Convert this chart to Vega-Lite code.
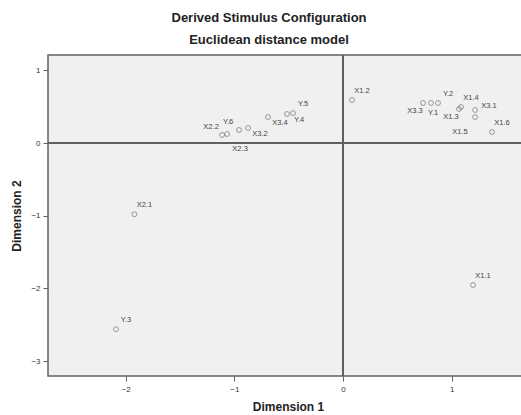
{
  "$schema": "https://vega.github.io/schema/vega-lite/v6.json",
  "autosize": "none",
  "width": 480,
  "height": 321,
  "padding": {"left": 48, "top": 55, "right": 0, "bottom": 39},
  "background": "white",
  "config": {
    "view": {"fill": "#f0f0f0", "stroke": "#606060", "strokeWidth": 1.5},
    "font": "Liberation Sans",
    "axis": {"grid": false, "domain": false, "tickColor": "#606060", "tickSize": 5, "labelFontSize": 8, "labelColor": "#333", "titleFontSize": 12, "titleFontWeight": "bold", "titleColor": "#222"},
    "text": {"fill": "#444", "fontSize": 7.5, "font": "Liberation Sans"}
  },
  "title": {
    "text": "Derived Stimulus Configuration",
    "subtitle": "Euclidean distance model",
    "fontSize": 13,
    "fontWeight": "bold",
    "color": "#222",
    "subtitleFontSize": 13,
    "subtitleFontWeight": "bold",
    "subtitleColor": "#222",
    "subtitlePadding": 9,
    "anchor": "middle",
    "dx": -19,
    "offset": 7
  },
  "data": {
    "values": [
      {"name": "X2.2", "d1": -1.113, "d2": 0.110},
      {"name": "X2.3", "d1": -1.067, "d2": 0.124},
      {"name": "Y.6", "d1": -0.957, "d2": 0.179},
      {"name": "X3.2", "d1": -0.874, "d2": 0.206},
      {"name": "X3.4", "d1": -0.690, "d2": 0.357},
      {"name": "Y.4", "d1": -0.515, "d2": 0.399},
      {"name": "Y.5", "d1": -0.460, "d2": 0.412},
      {"name": "X1.2", "d1": 0.083, "d2": 0.591},
      {"name": "X2.1", "d1": -1.920, "d2": -0.980},
      {"name": "Y.3", "d1": -2.090, "d2": -2.560},
      {"name": "X1.1", "d1": 1.196, "d2": -1.952},
      {"name": "X3.3", "d1": 0.736, "d2": 0.550},
      {"name": "Y.1", "d1": 0.810, "d2": 0.550},
      {"name": "Y.2", "d1": 0.874, "d2": 0.550},
      {"name": "X1.4", "d1": 1.086, "d2": 0.495},
      {"name": "X1.3", "d1": 1.067, "d2": 0.467},
      {"name": "X3.1", "d1": 1.215, "d2": 0.454},
      {"name": "X1.5", "d1": 1.215, "d2": 0.357},
      {"name": "X1.6", "d1": 1.371, "d2": 0.151}
    ]
  },
  "encoding": {
    "x": {"field": "d1", "type": "quantitative", "scale": {"domain": [-2.715, 1.702], "nice": false, "zero": false}, "axis": {"values": [-2, -1, 0, 1], "title": "Dimension 1", "titlePadding": 8, "labelPadding": 4}},
    "y": {"field": "d2", "type": "quantitative", "scale": {"domain": [-3.203, 1.21], "nice": false, "zero": false}, "axis": {"values": [-3, -2, -1, 0, 1], "title": "Dimension 2", "titlePadding": 7, "labelPadding": 3}}
  },
  "layer": [
    {"mark": {"type": "rule", "color": "#606060", "strokeWidth": 1.5}, "encoding": {"x": {"datum": 0}, "y": null}},
    {"mark": {"type": "rule", "color": "#606060", "strokeWidth": 1.5}, "encoding": {"y": {"datum": 0}, "x": null}},
    {"mark": {"type": "point", "shape": "circle", "filled": false, "size": 24, "stroke": "#555", "strokeWidth": 0.8}},
    {"transform": [{"filter": {"field": "name", "oneOf": ["Y.5", "X1.2", "Y.2", "X1.4", "X1.6", "Y.3", "X2.1", "X1.1"]}}],
     "mark": {"type": "text", "dx": 10, "dy": -9, "fill": "#444"}, "encoding": {"text": {"field": "name"}}},
    {"transform": [{"filter": {"field": "name", "oneOf": ["X2.2", "Y.6"]}}],
     "mark": {"type": "text", "dx": -11, "dy": -8, "fill": "#444"}, "encoding": {"text": {"field": "name"}}},
    {"transform": [{"filter": {"field": "name", "oneOf": ["X3.2", "X3.4", "Y.4"]}}],
     "mark": {"type": "text", "dx": 12, "dy": 6, "fill": "#444"}, "encoding": {"text": {"field": "name"}}},
    {"transform": [{"filter": {"field": "name", "oneOf": ["X3.3", "X1.3"]}}],
     "mark": {"type": "text", "dx": -8, "dy": 8, "fill": "#444"}, "encoding": {"text": {"field": "name"}}},
    {"transform": [{"filter": {"field": "name", "oneOf": ["Y.1"]}}],
     "mark": {"type": "text", "dx": 2, "dy": 10, "fill": "#444"}, "encoding": {"text": {"field": "name"}}},
    {"transform": [{"filter": {"field": "name", "oneOf": ["X3.1"]}}],
     "mark": {"type": "text", "dx": 14, "dy": -4, "fill": "#444"}, "encoding": {"text": {"field": "name"}}},
    {"transform": [{"filter": {"field": "name", "oneOf": ["X1.5"]}}],
     "mark": {"type": "text", "dx": -15, "dy": 15, "fill": "#444"}, "encoding": {"text": {"field": "name"}}},
    {"transform": [{"filter": {"field": "name", "oneOf": ["X2.3"]}}],
     "mark": {"type": "text", "dx": 13, "dy": 15, "fill": "#444"}, "encoding": {"text": {"field": "name"}}}
  ]
}
